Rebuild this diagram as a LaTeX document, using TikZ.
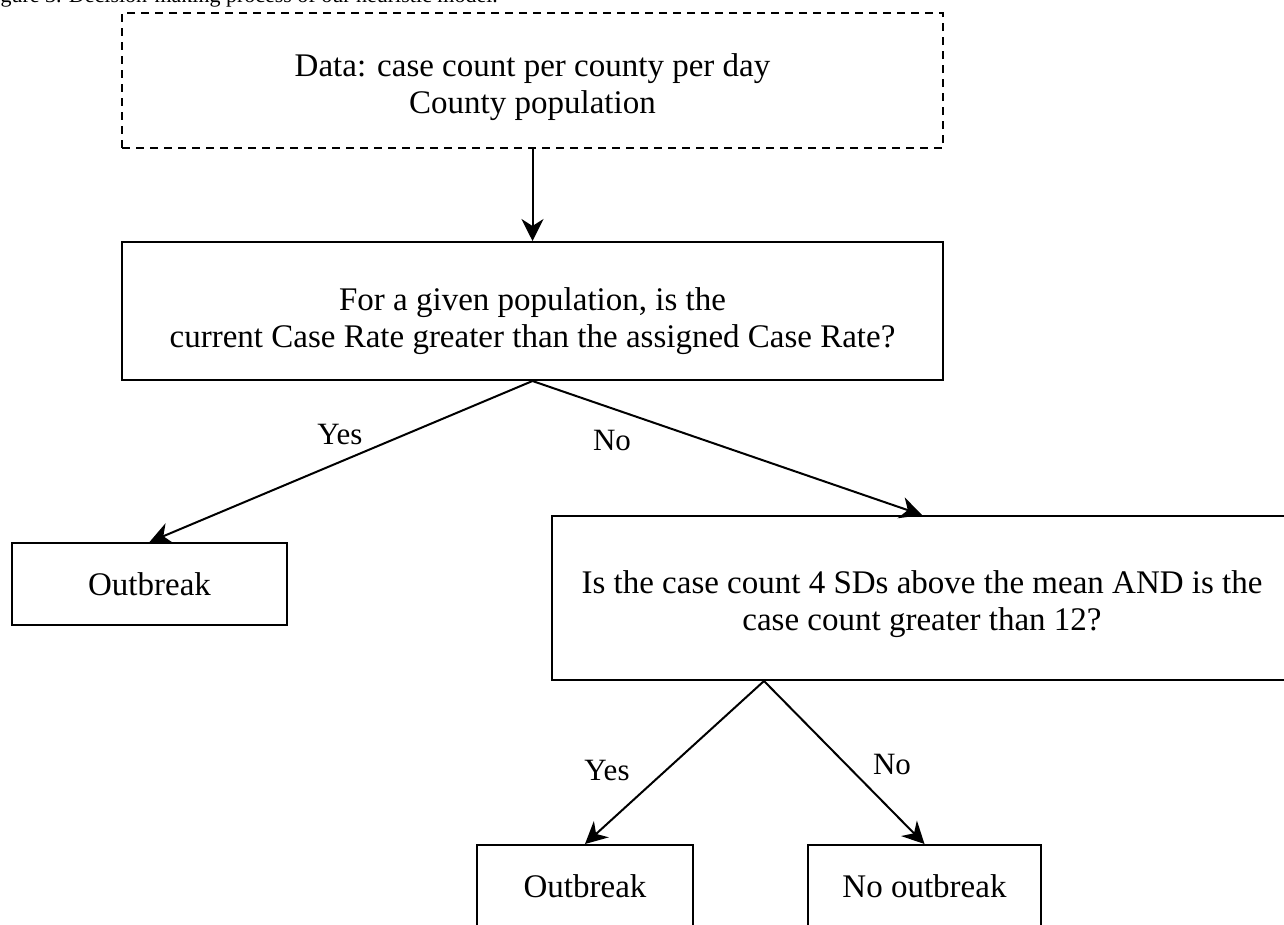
\documentclass[tikz,border=0pt]{standalone}
\usepackage{fontspec}
\setmainfont{Liberation Serif}
\usetikzlibrary{arrows.meta}
\newcommand{\boxlines}[2][-7pt]{\raisebox{#1}[\height][\depth]{\begin{tabular}{@{}c@{}}#2\end{tabular}}}
\begin{document}
\begin{tikzpicture}[x=1pt,y={(0pt,-1pt)},
  box/.style={draw, line width=2pt, rectangle, align=center, font=\fontsize{33}{37}\selectfont, inner sep=0pt},
  dbox/.style={box, dash pattern=on 8pt off 6pt},
  lbl/.style={font=\fontsize{31}{35}\selectfont, inner sep=0pt},
  arr/.style={line width=2pt, -{Stealth[length=22pt,width=22pt,inset=7pt]}},
  captext/.style={font=\fontsize{22}{26}\selectfont, inner sep=0pt, anchor=base west}]
\useasboundingbox (0,0) rectangle (1284,924);
\clip (0,0) rectangle (1284,924);
\fill[white] (0,0) rectangle (1284,924);
\node[captext] (cap) at (-18,2) {Figure 3. Decision-making process of our heuristic model.};
\node[dbox, minimum width=821pt, minimum height=135pt] (data) at (532.5,80.5) {\boxlines{Data: case count per county per day\\County population}};
\node[box, minimum width=821pt, minimum height=138pt] (q1) at (532.5,311) {\boxlines[-11pt]{For a given population, is the\\current Case Rate greater than the assigned Case Rate?}};
\node[box, minimum width=275pt, minimum height=82pt] (o1) at (149.5,584) {Outbreak};
\node[box, minimum width=740pt, minimum height=164pt] (q2) at (922,598) {\boxlines{Is the case count 4 SDs above the mean AND is the\\case count greater than 12?}};
\node[box, minimum width=216pt, minimum height=82pt] (o2) at (585,886) {Outbreak};
\node[box, minimum width=233pt, minimum height=82pt] (no) at (924.5,886) {No outbreak};
\coordinate (q2s) at ([xshift=213pt]q2.south west);
\draw[arr] (data.south) -- (q1.north);
\draw[arr] (q1.south) -- (o1.north);
\draw[arr] (q1.south) -- (q2.north);
\draw[arr] (q2s) -- (o2.north);
\draw[arr] (q2s) -- (no.north);
\node[lbl] (yes1) at (340,434) {Yes};
\node[lbl] (no1) at (612,440) {No};
\node[lbl] (yes2) at (607,770) {Yes};
\node[lbl] (no2) at (892,764) {No};
\end{tikzpicture}
\end{document}
